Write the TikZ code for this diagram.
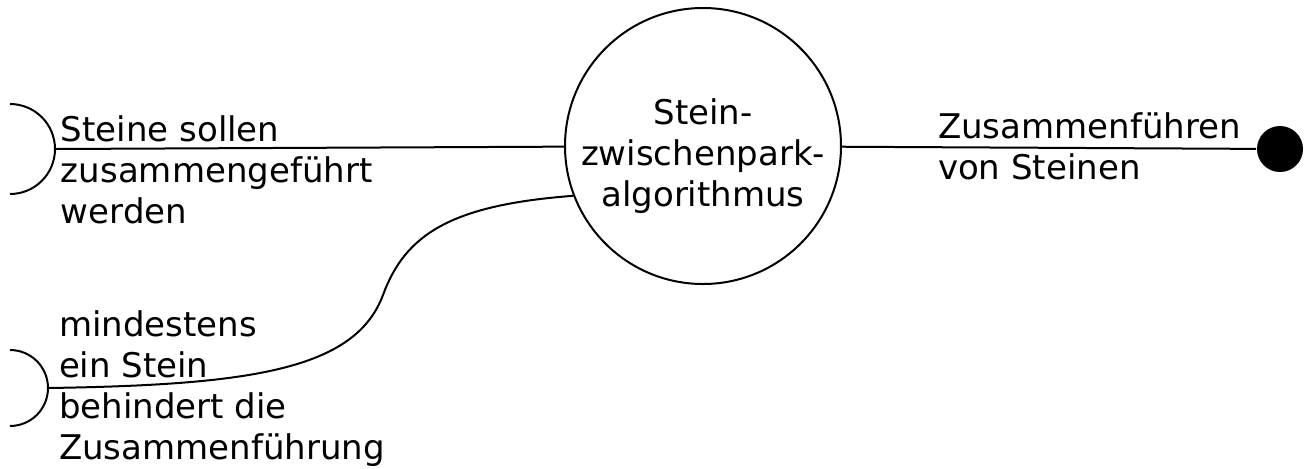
\documentclass[tikz,border=0pt]{standalone}
\usepackage{fontspec}
\setmainfont{DejaVu Sans}
\usetikzlibrary{positioning,calc}
\definecolor{ink}{RGB}{0,0,0}
\tikzset{
  every picture/.style={color=ink, line width=1pt},
  proc/.style={draw=ink, circle, minimum size=138pt, inner sep=0pt},
  proctext/.style={align=center, inner sep=0pt, yshift=-5pt},
  sink/.style={circle, fill=ink, minimum size=23pt, inner sep=0pt},
  lbl/.style={inner sep=0pt, align=left},
  flow/.style={line width=1pt},
}

\begin{document}
\begin{tikzpicture}[x=0.5pt, y=0.5pt, font=\fontsize{17}{20.5}\selectfont]
  \useasboundingbox (0,0) rectangle (1314,-468);
  \node[proc, label={[proctext]center:{Stein-\\zwischenpark-\\algorithmus}}] (algo) at (703,-146) {};
  \node[sink] (done) at (1280,-149) {};
  % the two terminators on the left
  \draw (10,-104) arc[start angle=90, end angle=-90, radius=22.5pt] coordinate[pos=0.5] (src1);
  \draw (10,-350) arc[start angle=90, end angle=-90, radius=19pt] coordinate[pos=0.5] (src2);
  \node[lbl, anchor=north west] (need) at (60,-115) {Steine sollen\\zusammengeführt\\werden};
  \node[lbl, anchor=north west] (block) at (58,-310) {mindestens\\ein Stein\\behindert die\\Zusammenführung};
  \node[lbl, anchor=north west] (merge) at (937,-112) {Zusammenführen\\von Steinen};
  \draw[flow] (src1) -- (algo);
  \draw[flow] (src2) .. controls (250,-385) and (355,-370) .. (383,-295)
    .. controls (405,-235) and (450,-205) .. (algo.201);
  \draw[flow] (algo) -- (done);
\end{tikzpicture}
\end{document}
